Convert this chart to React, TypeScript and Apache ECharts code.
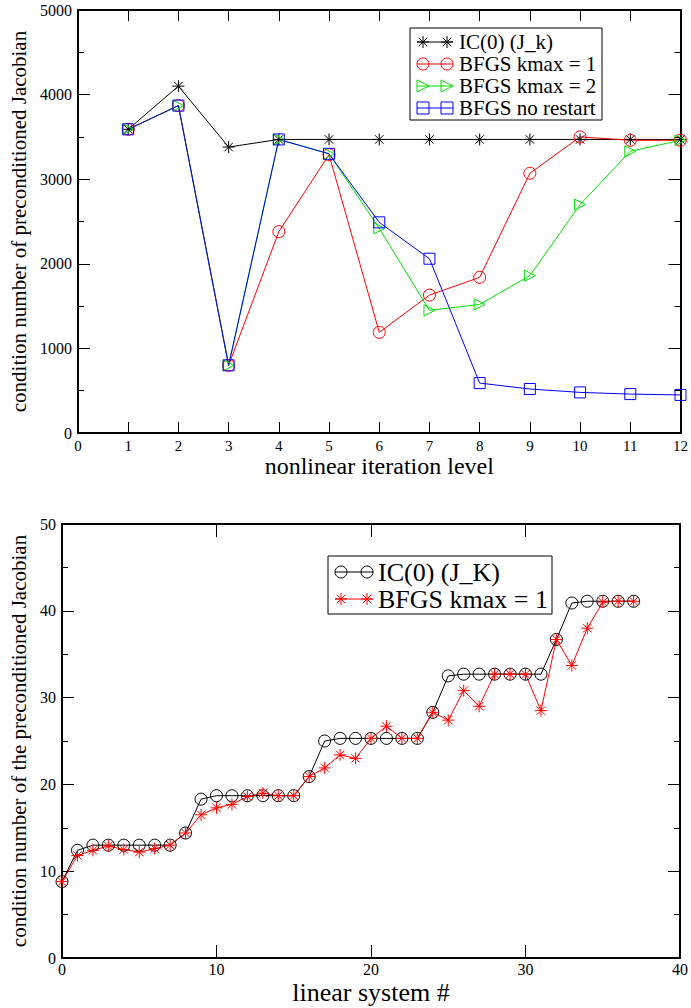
import React, { useEffect, useRef } from "react";
import * as echarts from "echarts";

// ---- Top chart data ----
const topIterations = [1, 2, 3, 4, 5, 6, 7, 8, 9, 10, 11, 12];
const ic0Jk = [3590, 4100, 3380, 3470, 3470, 3470, 3470, 3470, 3470, 3470, 3470, 3470];
const bfgsK1 = [3590, 3870, 800, 2380, 3290, 1190, 1630, 1840, 3070, 3500, 3460, 3460];
const bfgsK2 = [3590, 3870, 800, 3470, 3300, 2420, 1450, 1520, 1860, 2700, 3330, 3460];
const bfgsNoRestart = [3590, 3870, 800, 3470, 3300, 2490, 2060, 590, 520, 480, 460, 450];
const topNames = ["IC(0) (J_k)", "BFGS kmax = 1", "BFGS kmax = 2", "BFGS no restart"];

// ---- Bottom chart data ----
const linearSystems = Array.from({ length: 38 }, (_, i) => i);
const ic0JK = [
  8.8, 12.4, 13.0, 13.0, 13.0, 13.0, 13.0, 13.0, 14.4, 18.3, 18.7, 18.7, 18.7, 18.7, 18.7, 18.7,
  20.9, 25.0, 25.3, 25.3, 25.3, 25.3, 25.3, 25.3, 28.3, 32.5, 32.7, 32.7, 32.7, 32.7, 32.7, 32.7,
  36.7, 40.9, 41.1, 41.1, 41.1, 41.1,
];
const bfgsKmax1 = [
  8.8, 11.8, 12.4, 12.9, 12.5, 12.2, 12.6, 13.0, 14.4, 16.5, 17.3, 17.7, 18.6, 19.0, 18.7, 18.7,
  20.9, 21.9, 23.4, 23.0, 25.3, 26.7, 25.3, 25.3, 28.3, 27.4, 30.8, 29.0, 32.7, 32.7, 32.7, 28.5,
  36.7, 33.7, 38.0, 41.0, 41.1, 41.1,
];
const bottomNames = ["IC(0) (J_K)", "BFGS kmax = 1"];

const FONT = "Liberation Serif";
const BLACK = "#000000";
const RED = "#ff0000";
const GREEN = "#00e000";
const BLUE = "#0000ff";

const STAR = "path://M6,0L6,12M0,6L12,6M1.76,1.76L10.24,10.24M1.76,10.24L10.24,1.76";
const TRI = "path://M0,0L10,5L0,10Z";

function pairs(xs: number[], ys: number[]) {
  return xs.map((x, i) => [x, ys[i]]);
}

function lineSeries(
  name: string,
  axisIdx: number,
  data: number[][],
  color: string,
  symbol: string,
  size: number
) {
  return {
    name,
    type: "line",
    xAxisIndex: axisIdx,
    yAxisIndex: axisIdx,
    data,
    symbol,
    symbolSize: size,
    showAllSymbol: true,
    lineStyle: { color, width: 1 },
    itemStyle: { color: "rgba(0,0,0,0)", borderColor: color, borderWidth: 1 },
    emphasis: { disabled: true },
    z: 3,
  };
}

const tickStyle = { color: "#000", width: 1 };
const plain = (v: number) => String(v);

function mkAxis(opts: any) {
  const { show, gridIndex, position, min, max, interval, tickLen, minor, fontSize, margin } = opts;
  const a: any = {
    gridIndex,
    type: "value",
    position,
    min,
    max,
    interval,
    axisLine: { show: true, onZero: false, lineStyle: { color: "#000", width: 2 } },
    splitLine: { show: false },
    axisTick: { show: true, inside: true, length: tickLen, lineStyle: tickStyle },
    axisLabel: show
      ? { show: true, color: "#000", fontFamily: FONT, fontSize, margin, formatter: plain }
      : { show: false },
  };
  if (minor) a.minorTick = { show: true, splitNumber: 2, length: 6, lineStyle: tickStyle };
  return a;
}

// ---- legend drawn with graphic elements ----
function markerAt(kind: string, cx: number, cy: number, r: number, color: string): any[] {
  const st = { stroke: color, lineWidth: 1, fill: "none" };
  if (kind === "circle") return [{ type: "circle", shape: { cx, cy, r }, style: st }];
  if (kind === "rect")
    return [{ type: "rect", shape: { x: cx - r, y: cy - r, width: 2 * r, height: 2 * r }, style: st }];
  if (kind === "tri")
    return [{ type: "polygon", shape: { points: [[cx - r, cy - r], [cx + r, cy], [cx - r, cy + r]] }, style: st }];
  const d = r * 0.707;
  return [
    [cx, cy - r, cx, cy + r],
    [cx - r, cy, cx + r, cy],
    [cx - d, cy - d, cx + d, cy + d],
    [cx - d, cy + d, cx + d, cy - d],
  ].map((p) => ({ type: "line", shape: { x1: p[0], y1: p[1], x2: p[2], y2: p[3] }, style: { stroke: color, lineWidth: 1 } }));
}

function legendGraphic(
  box: { x: number; y: number; w: number; h: number },
  iconX: number,
  iconW: number,
  r: number,
  textX: number,
  rowY: number[],
  names: string[],
  kinds: string[],
  colors: string[],
  fontSize: number
) {
  const children: any[] = [
    {
      type: "rect",
      shape: { x: box.x, y: box.y, width: box.w, height: box.h },
      style: { fill: "#fff", stroke: "#000", lineWidth: 1 },
    },
  ];
  names.forEach((name, i) => {
    const cy = rowY[i];
    children.push({
      type: "line",
      shape: { x1: iconX, y1: cy, x2: iconX + iconW, y2: cy },
      style: { stroke: colors[i], lineWidth: 1 },
    });
    children.push(...markerAt(kinds[i], iconX + r, cy, r, colors[i]));
    children.push(...markerAt(kinds[i], iconX + iconW - r, cy, r, colors[i]));
    children.push({
      type: "text",
      x: textX,
      y: cy,
      style: {
        text: name,
        fill: "#000",
        font: fontSize + "px \"Liberation Serif\", \"Times New Roman\", serif",
        verticalAlign: "middle",
        align: "left",
      },
    });
  });
  return { type: "group", z: 100, children };
}

export default function App() {
  const ref = useRef<HTMLDivElement>(null);
  useEffect(() => {
    if (!ref.current) return;
    const chart = echarts.init(ref.current, undefined, { renderer: "svg" });
    const option: any = {
      animation: false,
      backgroundColor: "#fff",
      textStyle: { fontFamily: FONT },
      grid: [
        { left: 78, top: 10, width: 603, height: 423, containLabel: false },
        { left: 62, top: 524, width: 620, height: 434, containLabel: false },
      ],
      xAxis: [
        {
          ...mkAxis({ show: true, gridIndex: 0, position: "bottom", min: 0, max: 12, interval: 1, tickLen: 11, fontSize: 15, margin: 5 }),
          name: "nonlinear iteration level",
          nameLocation: "middle",
          nameGap: 21,
          nameTextStyle: { color: "#000", fontFamily: FONT, fontSize: 24, verticalAlign: "top" },
        },
        mkAxis({ show: false, gridIndex: 0, position: "top", min: 0, max: 12, interval: 1, tickLen: 11 }),
        {
          ...mkAxis({ show: true, gridIndex: 1, position: "bottom", min: 0, max: 40, interval: 10, tickLen: 13, fontSize: 16, margin: 3 }),
          name: "linear system #",
          nameLocation: "middle",
          nameGap: 21,
          nameTextStyle: { color: "#000", fontFamily: FONT, fontSize: 26, verticalAlign: "top" },
        },
        mkAxis({ show: false, gridIndex: 1, position: "top", min: 0, max: 40, interval: 10, tickLen: 13 }),
      ],
      yAxis: [
        {
          ...mkAxis({ show: true, gridIndex: 0, position: "left", min: 0, max: 5000, interval: 1000, tickLen: 12, minor: true, fontSize: 16, margin: 6 }),
          name: "condition number of preconditioned Jacobian",
          nameLocation: "middle",
          nameGap: 40,
          nameTextStyle: { color: "#000", fontFamily: FONT, fontSize: 21 },
        },
        mkAxis({ show: false, gridIndex: 0, position: "right", min: 0, max: 5000, interval: 1000, tickLen: 12, minor: true }),
        {
          ...mkAxis({ show: true, gridIndex: 1, position: "left", min: 0, max: 50, interval: 10, tickLen: 12, minor: true, fontSize: 16, margin: 6 }),
          name: "condition number of the preconditioned Jacobian",
          nameLocation: "middle",
          nameGap: 24,
          nameTextStyle: { color: "#000", fontFamily: FONT, fontSize: 21 },
        },
        mkAxis({ show: false, gridIndex: 1, position: "right", min: 0, max: 50, interval: 10, tickLen: 12, minor: true }),
      ],
      graphic: [
        legendGraphic(
          { x: 410, y: 28, w: 192, h: 92 },
          417,
          36,
          6,
          459,
          [42, 64, 86, 108],
          topNames,
          ["star", "circle", "tri", "rect"],
          [BLACK, RED, GREEN, BLUE],
          21
        ),
        legendGraphic(
          { x: 328, y: 556, w: 224, h: 58 },
          335,
          38,
          6,
          378,
          [572, 599],
          bottomNames,
          ["circle", "star"],
          [BLACK, RED],
          26
        ),
      ],
      series: [
        lineSeries(topNames[0], 0, pairs(topIterations, ic0Jk), BLACK, STAR, 12),
        lineSeries(topNames[1], 0, pairs(topIterations, bfgsK1), RED, "circle", 12),
        lineSeries(topNames[2], 0, pairs(topIterations, bfgsK2), GREEN, TRI, 11),
        lineSeries(topNames[3], 0, pairs(topIterations, bfgsNoRestart), BLUE, "rect", 11),
        lineSeries(bottomNames[0], 2, pairs(linearSystems, ic0JK), BLACK, "circle", 12),
        lineSeries(bottomNames[1], 2, pairs(linearSystems, bfgsKmax1), RED, STAR, 12),
      ],
    };
    chart.setOption(option);
    return () => chart.dispose();
  }, []);
  return (
    <div
      ref={ref}
      style={{ position: "absolute", left: 0, top: 0, width: 691, height: 1008, background: "#fff" }}
    />
  );
}
